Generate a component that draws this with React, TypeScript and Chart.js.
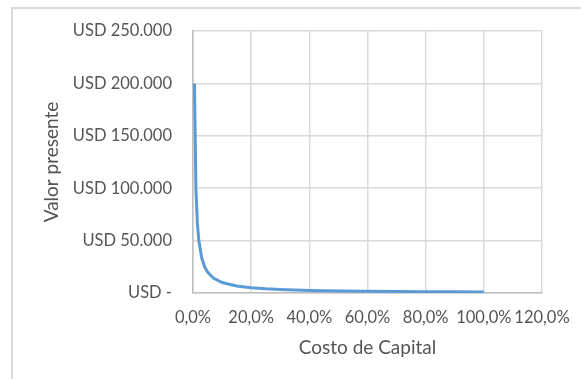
import React, { useEffect, useRef } from "react";
import { Chart, registerables } from "chart.js";

Chart.register(...registerables);

// Cost of capital (as a fraction) and the present value of the perpetuity at each rate
const costoCapital = [
  0.005, 0.01, 0.015, 0.02, 0.03, 0.04, 0.05, 0.07, 0.1, 0.15, 0.2, 0.25, 0.3,
  0.4, 0.5, 0.6, 0.7, 0.8, 0.9, 1.0,
];
const valorPresente = [
  200000, 100000, 66667, 50000, 33333, 25000, 20000, 14286, 10000, 6667, 5000,
  4000, 3333, 2500, 2000, 1667, 1429, 1250, 1111, 1000,
];

// Axis ranges
const xMax = 1.2;
const xStep = 0.2;
const yMax = 250000;
const yStep = 50000;

const FONT = "Lato, 'Open Sans', sans-serif";
const TEXT = "#555555";

const fmtUSD = (v: number) =>
  v === 0
    ? "USD -"
    : "USD " + String(Math.round(v)).replace(/\B(?=(\d{3})+(?!\d))/g, ".");

const fmtPct = (v: number) => (v * 100).toFixed(1).replace(".", ",") + "%";

export default function App() {
  const canvasRef = useRef<HTMLCanvasElement | null>(null);

  useEffect(() => {
    if (!canvasRef.current) return;
    const tickSize = 16.5;
    const titleSize = 19;
    const titleLH = titleSize * 1.2;
    const tickLH = tickSize * 1.2;

    const chart = new Chart(canvasRef.current, {
      type: "line",
      data: {
        datasets: [
          {
            label: "Valor presente",
            data: costoCapital.map((x, i) => ({ x, y: valorPresente[i] })),
            borderColor: "#5b9bd5",
            backgroundColor: "#5b9bd5",
            borderWidth: 3,
            pointRadius: 0,
            tension: 0,
            fill: false,
          },
        ],
      },
      options: {
        animation: false,
        responsive: false,
        maintainAspectRatio: false,
        layout: { padding: { left: 0, top: 31, right: 39, bottom: 0 } },
        plugins: {
          legend: { display: false },
          tooltip: { enabled: false },
        },
        scales: {
          x: {
            type: "linear",
            min: 0,
            max: xMax,
            afterFit: (s: any) => {
              s.height = 379 - 293;
              // plot edges are set by the layout padding alone
              s.paddingLeft = 0;
              s.paddingRight = 0;
            },
            ticks: {
              stepSize: xStep,
              autoSkip: false,
              maxRotation: 0,
              minRotation: 0,
              padding: 318 - 293 - tickLH / 2,
              color: TEXT,
              font: { family: FONT, size: tickSize },
              callback: (v: any) => fmtPct(Number(v)),
            },
            grid: { color: "#d9d9d9", lineWidth: 1.5, drawTicks: false },
            border: { color: "#bfbfbf", width: 1.5 },
            title: {
              display: true,
              text: "Costo de Capital",
              color: TEXT,
              font: { family: FONT, size: titleSize },
              padding: { top: 0, bottom: 379 - 348 - titleLH / 2 },
            },
          },
          y: {
            type: "linear",
            min: 0,
            max: yMax,
            afterFit: (s: any) => {
              s.width = 193;
            },
            ticks: {
              stepSize: yStep,
              padding: 21,
              color: TEXT,
              font: { family: FONT, size: tickSize },
              callback: (v: any) => fmtUSD(Number(v)),
            },
            grid: { color: "#d9d9d9", lineWidth: 1.5, drawTicks: false },
            border: { color: "#bfbfbf", width: 1.5 },
            title: {
              display: true,
              text: "Valor presente",
              color: TEXT,
              font: { family: FONT, size: titleSize },
              padding: { top: 52 - titleLH / 2, bottom: 0 },
            },
          },
        },
      },
    });
    return () => chart.destroy();
  }, []);

  return (
    <div
      style={{
        position: "fixed",
        left: 0,
        top: 0,
        width: 581,
        height: 379,
        overflow: "hidden",
        background: "#ffffff",
      }}
    >
      <div
        style={{
          position: "absolute",
          left: 11,
          top: 7,
          width: 700,
          height: 500,
          border: "2px solid #d9d9d9",
          boxSizing: "border-box",
        }}
      />
      <canvas
        ref={canvasRef}
        width={581}
        height={379}
        style={{ position: "absolute", left: 0, top: 0 }}
      />
    </div>
  );
}
